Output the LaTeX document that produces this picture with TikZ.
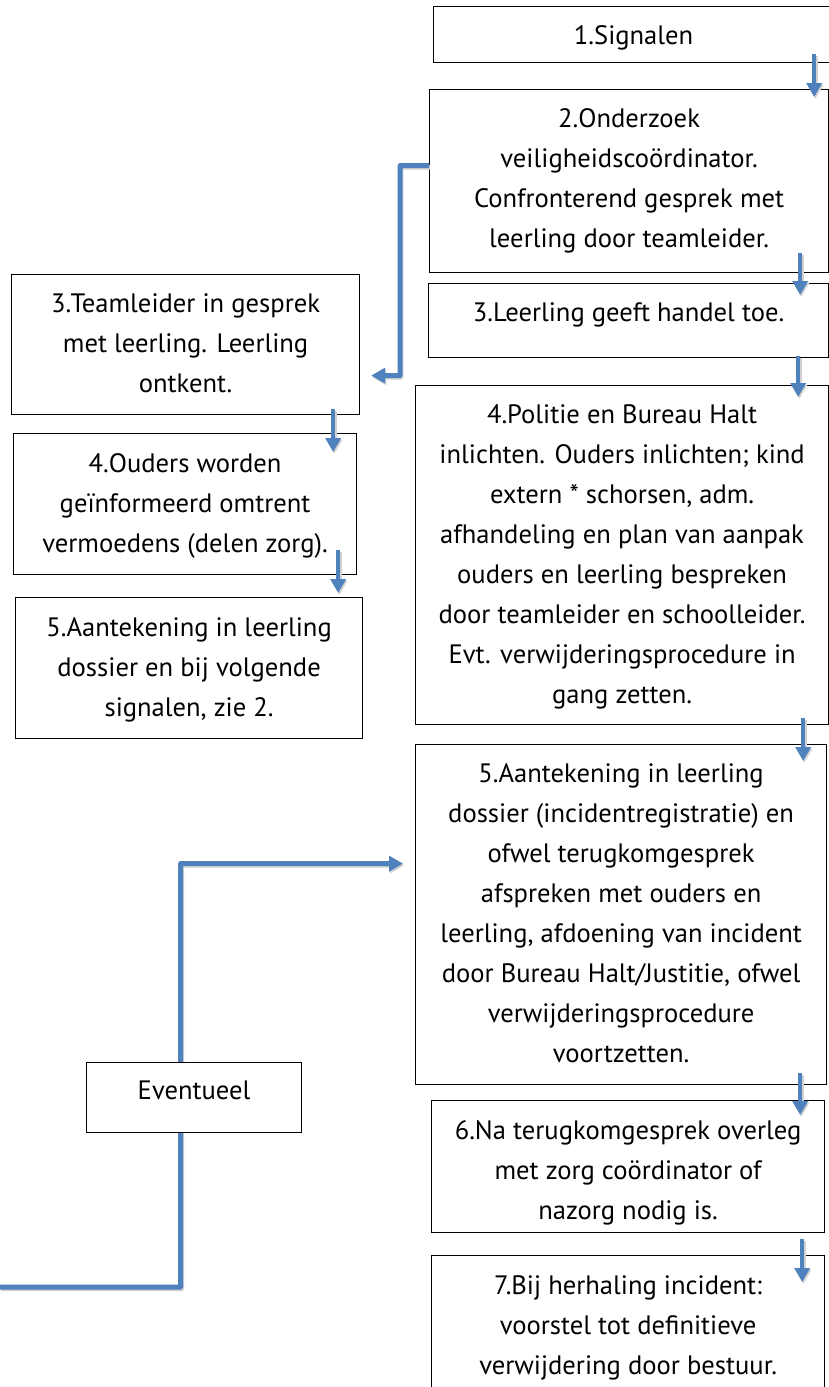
\documentclass[tikz,border=0pt]{standalone}
\usepackage{fontspec}
\setmainfont{PT Sans}
\usetikzlibrary{arrows.meta,backgrounds}
\definecolor{accent}{RGB}{79,129,189}
\tikzset{
  box/.style={draw=black, line width=1.2pt, fill=white, rectangle, inner sep=0pt, anchor=north west},
  txt/.style={font=\fontsize{26.6}{40}\selectfont, align=center, inner sep=0pt, anchor=north, text=black},
  arr/.style={draw=accent, line width=4.5pt, -{Triangle[width=15pt,length=14pt]},
    preaction={draw=black!18, line width=4.5pt, transform canvas={shift={(1.2pt,-1.8pt)}}}},
  elbow/.style={arr, line width=5pt, rounded corners=0.5pt},
}
\begin{document}
\begin{tikzpicture}[x=1pt,y=-1pt]
\useasboundingbox (0,0) rectangle (829,1387);
% right column boxes
\node[box, minimum width=400pt, minimum height=56pt]  (b1) at (433,6) {};
\node[box, minimum width=399pt, minimum height=183pt] (b2) at (429,89) {};
\node[box, minimum width=400pt, minimum height=74pt]  (b3) at (428,283) {};
\node[box, minimum width=413pt, minimum height=339pt] (b4) at (415,385) {};
\node[box, minimum width=411pt, minimum height=340pt] (b5) at (415,744) {};
\node[box, minimum width=393pt, minimum height=132pt] (b6) at (431,1100) {};
\node[box, minimum width=393pt, minimum height=160pt] (b7) at (431,1255) {};
% left column boxes
\node[box, minimum width=348pt, minimum height=140pt] (l3) at (11,274) {};
\node[box, minimum width=343pt, minimum height=141pt] (l4) at (13,433) {};
\node[box, minimum width=347pt, minimum height=141pt] (l5) at (15,597) {};
% texts
\node[txt] (t1) at ([yshift=-19pt]b1.north) {1.Signalen};
\node[txt] (t2) at ([yshift=-19pt]b2.north) {2.Onderzoek\\veiligheidscoördinator.\\Confronterend gesprek met\\leerling door teamleider.};
\node[txt] (t3) at ([yshift=-19pt]b3.north) {3.Leerling geeft handel toe.};
\node[txt] (t4) at ([yshift=-19pt]b4.north) {4.Politie en Bureau Halt\\inlichten. Ouders inlichten; kind\\extern * schorsen, adm.\\afhandeling en plan van aanpak\\ouders en leerling bespreken\\door teamleider en schoolleider.\\Evt. verwijderingsprocedure in\\gang zetten.};
\node[txt] (t5) at ([yshift=-19pt]b5.north) {5.Aantekening in leerling\\dossier (incidentregistratie) en\\ofwel terugkomgesprek\\afspreken met ouders en\\leerling, afdoening van incident\\door Bureau Halt/Justitie, ofwel\\verwijderingsprocedure\\voortzetten.};
\node[txt] (t6) at ([yshift=-20pt]b6.north) {6.Na terugkomgesprek overleg\\met zorg coördinator of\\nazorg nodig is.};
\node[txt] (t7) at ([yshift=-20pt]b7.north) {7.Bij herhaling incident:\\voorstel tot definitieve\\verwijdering door bestuur.};
\node[txt] (tl3) at ([yshift=-19pt]l3.north) {3.Teamleider in gesprek\\met leerling. Leerling\\ontkent.};
\node[txt] (tl4) at ([yshift=-20pt]l4.north) {4.Ouders worden\\geïnformeerd omtrent\\vermoedens (delen zorg).};
\node[txt] (tl5) at ([yshift=-20pt]l5.north) {5.Aantekening in leerling\\dossier en bij volgende\\signalen, zie 2.};
% Eventueel box
\node[box, minimum width=215pt, minimum height=70pt] (ev) at (86,1062) {};
\node[txt] (tev) at ([yshift=-19pt]ev.north) {Eventueel};
% loop connector behind the Eventueel box
\coordinate (s) at (0,1287);
\begin{scope}[on background layer]
\fill[white] (0,0) rectangle (829,1387);
\draw[elbow] (s) -| ([xshift=-13.5pt]ev.south) |- ([shift={(-12,-51)}]b5.west);
\end{scope}
% elbow from step 2 to left step 3
\draw[elbow] ([yshift=15.5pt]b2.west) -- ++(-29,0) |- ([shift={(11,31)}]l3.east);
% short down arrows
\draw[arr] ([shift={(-20,-9)}]b1.south east) -- ([shift={(-15,8)}]b2.north east);
\draw[arr] ([shift={(-29,-20)}]b2.south east) -- ([shift={(-29,12)}]b3.north east);
\draw[arr] ([shift={(-31,-2)}]b3.south east) -- ([shift={(-31,12)}]b4.north east);
\draw[arr] ([shift={(-26,-7)}]b4.south east) -- ([shift={(-24,17)}]b5.north east);
\draw[arr] ([shift={(-27,-12)}]b5.south east) -- ([shift={(-25,15)}]b6.north east);
\draw[arr] ([shift={(-23,6)}]b6.south east) -- ([shift={(-23,27)}]b7.north east);
\draw[arr] ([shift={(-27,-6)}]l3.south east) -- ([shift={(-24,19)}]l4.north east);
\draw[arr] ([shift={(-19,-25)}]l4.south east) -- ([shift={(-25,-4)}]l5.north east);
\end{tikzpicture}
\end{document}
